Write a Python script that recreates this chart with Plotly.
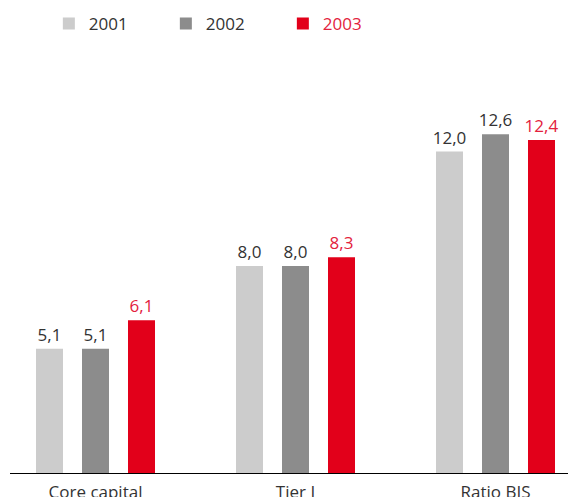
import plotly.graph_objects as go

categories = ["Core capital", "Tier I", "Ratio BIS"]
years = ["2001", "2002", "2003"]
v2001 = [5.1, 8.0, 12.0]
v2002 = [5.1, 8.0, 12.6]
v2003 = [6.1, 8.3, 12.4]

series = [v2001, v2002, v2003]
bar_colors = ["#cccccc", "#8c8c8c", "#e2001a"]
text_colors = ["#333333", "#333333", "#e3223d"]
offsets = [-0.2975, -0.0675, 0.1625]
width = 0.135

fig = go.Figure()
for i, (yr, vals) in enumerate(zip(years, series)):
    name = yr if i < 2 else f"<span style='color:{text_colors[i]}'>{yr}</span>"
    fig.add_trace(go.Bar(
        x=list(range(len(categories))), y=vals, name=name,
        width=width, offset=offsets[i],
        marker=dict(color=bar_colors[i], line=dict(width=0)),
        text=[f"{v:.1f}".replace(".", ",") for v in vals],
        textposition="outside", cliponaxis=False, constraintext="none",
        textfont=dict(family="Open Sans", size=17, color=text_colors[i]),
        hoverinfo="skip",
    ))

fig.update_layout(
    width=568, height=497,
    margin=dict(l=10, r=0, t=60, b=24, autoexpand=False),
    plot_bgcolor="white", paper_bgcolor="white",
    barmode="overlay",
    showlegend=True,
    legend=dict(orientation="h", x=0.086, y=0.988, yref="container", yanchor="top",
                xref="container", xanchor="left",
                font=dict(family="Open Sans", size=17, color="#333333"),
                entrywidth=72, traceorder="normal",
                bgcolor="rgba(0,0,0,0)"),
    font=dict(family="Open Sans", color="#333333"),
    xaxis=dict(range=[-0.4275, 2.3625], tickmode="array", automargin=False,
               tickvals=list(range(len(categories))), ticktext=categories,
               showgrid=False, zeroline=False, showline=True, linecolor="#000000",
               linewidth=1, ticks="", ticklabelstandoff=4,
               tickfont=dict(family="Open Sans", size=17, color="#333333")),
    yaxis=dict(range=[0.76, 15.2], visible=False, showgrid=False, zeroline=False,
               automargin=False),
)

fig.write_html("out.html", config={"displayModeBar": False},
               post_script="document.body.style.margin='0px';document.body.style.overflow='hidden';")
